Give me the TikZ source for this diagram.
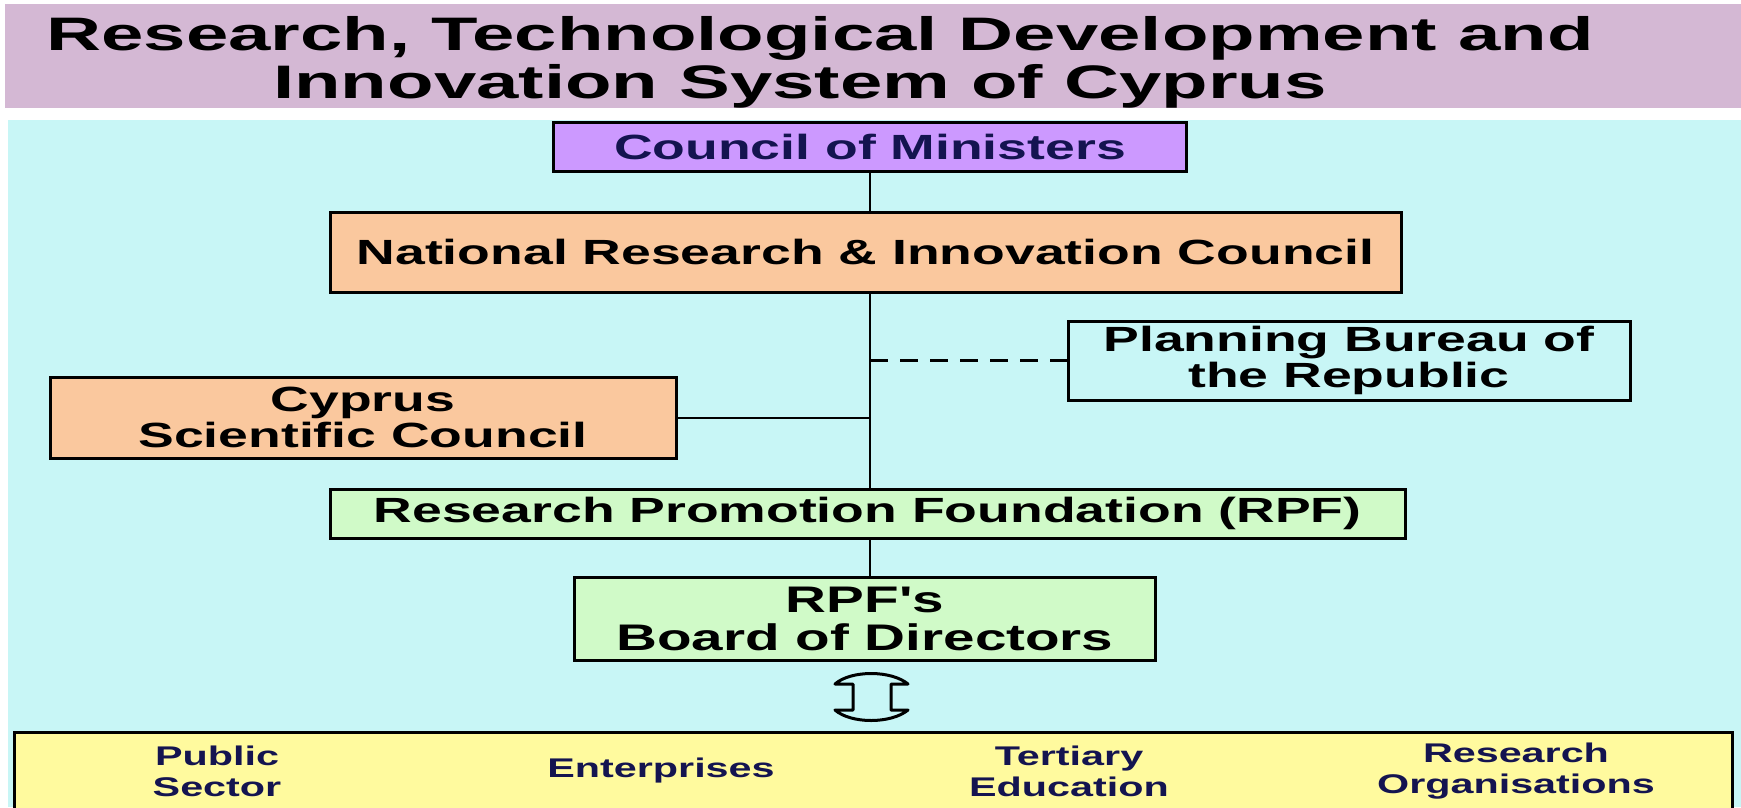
\documentclass[tikz,border=0pt]{standalone}
\usepackage{fontspec}
\setmainfont{Liberation Sans}
\newfontfamily\boxfont[FakeStretch=1.53]{Liberation Sans}
\newfontfamily\titlefont[FakeStretch=1.62]{Liberation Sans}
\definecolor{bandpink}{RGB}{212,184,212}
\definecolor{skycyan}{RGB}{200,246,246}
\definecolor{lilac}{RGB}{204,153,255}
\definecolor{peach}{RGB}{250,200,158}
\definecolor{mint}{RGB}{208,250,200}
\definecolor{lemon}{RGB}{255,250,158}
\definecolor{navy}{RGB}{20,20,80}
\tikzset{
	rectnode/.style={rectangle, draw=black, line width=3pt, inner sep=0pt, align=center, font={\boxfont\bfseries\fontsize{35}{36}\selectfont}},
	titletext/.style={anchor=base, inner sep=0pt, font={\titlefont\bfseries\fontsize{47}{48}\selectfont}},
	sectortext/.style={align=center, inner sep=0pt, text=navy, font={\boxfont\bfseries\fontsize{27}{31}\selectfont}},
	trunk/.style={line width=2pt, draw=black},
	mydashed/.style={line width=2.5pt, dash pattern=on 18pt off 12pt}
}

\begin{document}
\begin{tikzpicture}[x=1pt, y=-1pt]
		\useasboundingbox (0,0) rectangle (1741,807);
		\clip (0,0) rectangle (1741,807);
		\fill[white] (0,0) rectangle (1741,807);
		\fill[bandpink] (5,4) rectangle (1741,108);
		\fill[skycyan] (8,120) rectangle (1741,807);
		
		\node[titletext] at (820,50) (title1) {Research, Technological Development and};
		\node[titletext] at (800,98) (title2) {Innovation System of Cyprus};
		
		\node[rectnode, fill=lilac, text=navy, minimum width=633pt, minimum height=49pt] at (870,146.5) (council) {Council of Ministers};
		\node[rectnode, fill=peach, minimum width=1071pt, minimum height=80pt] at (865.5,252) (nric) {National Research \& Innovation Council};
		\node[rectnode, minimum width=562pt, minimum height=79pt] at (1349,360.5) (bureau) {Planning Bureau of\\the Republic};
		\node[rectnode, fill=peach, minimum width=626pt, minimum height=81pt] at (363,417.5) (csc) {Cyprus\\Scientific Council};
		\node[rectnode, fill=mint, minimum width=1075pt, minimum height=49pt] at (867.5,513.5) (rpf) {Research Promotion Foundation (RPF)};
		\node[rectnode, fill=mint, minimum width=581pt, minimum height=83pt, font={\boxfont\bfseries\fontsize{37}{38}\selectfont}] at (865,618.5) (board) {RPF's\\Board of Directors};
		
		% hollow two-way arrow under the board
		\coordinate (updown) at (871,697);
		\begin{scope}[shift={(updown)}]
			\draw[line width=3pt, line join=round, fill=skycyan] (-36,-13) .. controls (-20,-27) and (20,-27) .. (37,-13) -- (20,-13) -- (20,13) -- (37,13) .. controls (20,27) and (-20,27) .. (-36,13) -- (-18,13) -- (-18,-13) -- cycle;
		\end{scope}
		
		\node[rectnode, fill=lemon, minimum width=1718pt, minimum height=100pt] at (873,782) (sectors) {};
		\node[sectortext] at (217,771) (public) {Public\\Sector};
		\node[sectortext] at (661,771) (enterprises) {Enterprises};
		\node[sectortext] at (1069,771) (tertiary) {Tertiary\\Education};
		\node[sectortext] at (1516,771) (resorg) {Research\\Organisations};
		
		\draw[trunk] (council.south) -- (council.south |- nric.north);
		\draw[trunk] (council.south |- nric.south) -- (council.south |- rpf.north);
		\draw[trunk, mydashed] (council.south |- bureau.west) -- (bureau.west);
		\draw[trunk] (csc.east) -- (csc.east -| council.south);
		\draw[trunk] (council.south |- rpf.south) -- (council.south |- board.north);
	\end{tikzpicture}
\end{document}
